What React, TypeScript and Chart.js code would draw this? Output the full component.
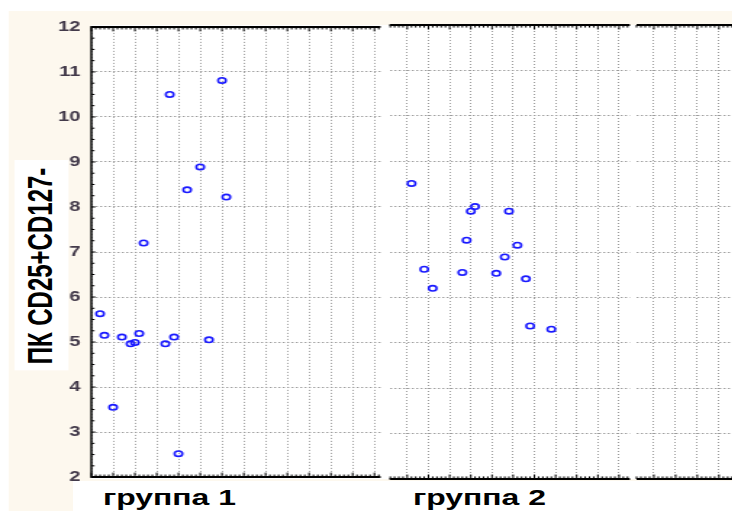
import { useEffect, useRef } from 'react';
import { Chart, registerables } from 'chart.js';

Chart.register(...registerables);

// ---- data ----
const yMin = 2;
const yMax = 12;
const yTitle = 'ПК CD25+CD127-';
const groupLabels = ['группа 1', 'группа 2'];

const group1X = [0.4, 0.6, 1.0, 1.4, 1.8, 2.0, 2.2, 2.4, 3.4, 3.6, 3.8, 4.0, 4.4, 5.0, 5.4, 6.0, 6.2];
const group1Y = [5.63, 5.15, 3.55, 5.11, 4.96, 4.99, 5.19, 7.2, 4.96, 10.5, 5.11, 2.52, 8.38, 8.89, 5.05, 10.81, 8.22];

const group2X = [1.2, 1.8, 2.2, 3.6, 3.8, 4.0, 4.2, 5.2, 5.6, 5.8, 6.2, 6.6, 6.8, 7.8];
const group2Y = [8.51, 6.62, 6.2, 6.55, 7.26, 7.9, 8.0, 6.53, 6.89, 7.9, 7.15, 6.41, 5.37, 5.3];

const group3X: number[] = [];
const group3Y: number[] = [];

// x-axis range of each panel
const panelXMin = [0, 0.16, 0.2];
const panelXMax = [13.28, 11.51, 11.44];

// ---- layout (page pixels) ----
const K = 1.45; // horizontal stretch of the whole figure
const PANEL_LEFT = [92, 387, 637];
const PANEL_RIGHT = [383, 631, 881];
const PLOT_TOP = 25;
const PLOT_BOTTOM = 479;

const FONT = "'Liberation Sans', Arial, sans-serif";
const GRID = '#9c9c9c';
const POINT = '#1a1aff';
const CREAM = '#fdf8ee';

// frame: top/bottom rules with small inward ticks, and the left value axis
const panelFrame = {
  id: 'panelFrame',
  beforeDatasetsDraw(chart: any, _args: any, opts: any) {
    const { ctx, chartArea: a, scales } = chart;
    const xs = scales.x;
    const ys = scales.y;
    ctx.save();
    ctx.strokeStyle = '#000';
    ctx.lineWidth = 2;
    ctx.beginPath();
    ctx.moveTo(a.left, a.top);
    ctx.lineTo(a.right, a.top);
    ctx.moveTo(a.left, a.bottom);
    ctx.lineTo(a.right, a.bottom);
    ctx.stroke();

    ctx.lineWidth = 1;
    ctx.beginPath();
    const start = Math.ceil(xs.min / 0.2 - 1e-6);
    for (let i = start; i * 0.2 <= xs.max + 1e-6; i++) {
      const v = i * 0.2;
      const px = xs.getPixelForValue(v);
      const major = Math.abs(v - Math.round(v)) < 1e-6;
      const len = major ? 4.5 : 2.6;
      ctx.moveTo(px, a.top);
      ctx.lineTo(px, a.top + len);
      ctx.moveTo(px, a.bottom);
      ctx.lineTo(px, a.bottom - len);
    }
    ctx.stroke();

    if (opts && opts.leftAxis) {
      ctx.lineWidth = 1.5;
      ctx.beginPath();
      ctx.moveTo(a.left, a.top - 1);
      ctx.lineTo(a.left, a.bottom + 1);
      ctx.stroke();
      ctx.lineWidth = 1;
      ctx.beginPath();
      for (let v = ys.min; v <= ys.max + 1e-6; v += 0.25) {
        const py = ys.getPixelForValue(v);
        const major = Math.abs(v - Math.round(v)) < 1e-6;
        ctx.moveTo(a.left, py);
        ctx.lineTo(a.left + (major ? 2.8 : 2.2), py);
      }
      ctx.stroke();
    }
    ctx.restore();
  },
};

function Panel({ idx, xs, ys }: { idx: number; xs: number[]; ys: number[] }) {
  const ref = useRef<HTMLCanvasElement>(null);
  const showY = idx === 0;
  const axisW = showY ? 60 : 4;
  const padV = 14;
  const plotW = (PANEL_RIGHT[idx] - PANEL_LEFT[idx]) / K;
  const width = Math.ceil(axisW + plotW + 4);
  const height = PLOT_BOTTOM - PLOT_TOP + 2 * padV;
  const left = PANEL_LEFT[idx] / K - axisW;
  const top = PLOT_TOP - padV;

  useEffect(() => {
    const chart = new Chart(ref.current as HTMLCanvasElement, {
      type: 'scatter',
      data: {
        datasets: [
          {
            data: xs.map((x, i) => ({ x, y: ys[i] })),
            pointStyle: 'circle',
            pointRadius: 2.7,
            pointBorderWidth: 1.6,
            borderColor: POINT,
            backgroundColor: 'rgba(255,255,255,0)',
          },
        ],
      },
      options: {
        responsive: false,
        animation: false,
        devicePixelRatio: 1,
        events: [],
        layout: {
          padding: {
            left: showY ? 0 : axisW,
            right: width - axisW - plotW,
            top: padV,
            bottom: padV,
          },
        },
        plugins: {
          legend: { display: false },
          tooltip: { enabled: false },
          panelFrame: { leftAxis: showY },
        } as any,
        scales: {
          x: {
            type: 'linear',
            min: panelXMin[idx],
            max: panelXMax[idx],
            afterFit: (s: any) => {
              s.height = 0;
            },
            ticks: { display: false, stepSize: 1, includeBounds: false },
            grid: { drawTicks: false, color: GRID, lineWidth: 1 },
            border: { display: false, dash: [1, 2] },
          },
          y: {
            type: 'linear',
            min: yMin,
            max: yMax,
            afterFit: (s: any) => {
              s.width = showY ? axisW : 0;
            },
            ticks: {
              display: showY,
              stepSize: 1,
              padding: 7.5,
              color: '#433a4a',
              font: { family: FONT, size: 14, weight: 'bold' },
            },
            grid: { drawTicks: false, color: GRID, lineWidth: 1 },
            border: { display: false, dash: [1.4, 1.6] },
          },
        },
      },
      plugins: [panelFrame],
    });
    return () => chart.destroy();
  }, []);

  return (
    <canvas
      ref={ref}
      width={width}
      height={height}
      style={{ position: 'absolute', left, top, width, height }}
    />
  );
}

export default function App() {
  const box = (l: number, t: number, r: number, b: number, bg: string) => ({
    position: 'absolute' as const,
    left: l / K,
    top: t,
    width: (r - l) / K,
    height: b - t,
    background: bg,
  });

  return (
    <div
      style={{
        position: 'fixed',
        left: 0,
        top: 0,
        width: 732,
        height: 511,
        overflow: 'hidden',
        background: '#ffffff',
      }}
    >
      <div
        style={{
          position: 'absolute',
          left: 0,
          top: 0,
          width: 732 / K,
          height: 511,
          transform: `scaleX(${K})`,
          transformOrigin: '0 0',
        }}
      >
        <div style={box(8, 11, 732, 511, CREAM)} />
        <div style={box(92, PLOT_TOP, 732, PLOT_BOTTOM, '#ffffff')} />
        <Panel idx={0} xs={group1X} ys={group1Y} />
        <Panel idx={1} xs={group2X} ys={group2Y} />
        <Panel idx={2} xs={group3X} ys={group3Y} />
        <div style={box(73, 481, 732, 511, '#ffffff')} />
        <div style={box(15, 160, 68, 370, '#ffffff')} />
        <div
          style={{
            position: 'absolute',
            left: 41 / K,
            top: 266,
            transform: 'translate(-50%, -50%) rotate(-90deg)',
            whiteSpace: 'nowrap',
            fontFamily: FONT,
            fontWeight: 'bold',
            fontSize: 24,
            lineHeight: '24px',
            color: '#000',
          }}
        >
          {yTitle}
        </div>
        {groupLabels.map((label, i) => (
          <div
            key={label}
            style={{
              position: 'absolute',
              left: [103, 413][i] / K,
              top: 487.4,
              whiteSpace: 'nowrap',
              fontFamily: FONT,
              fontWeight: 'bold',
              fontSize: 22,
              lineHeight: '22px',
              color: '#000',
            }}
          >
            {label}
          </div>
        ))}
      </div>
    </div>
  );
}
